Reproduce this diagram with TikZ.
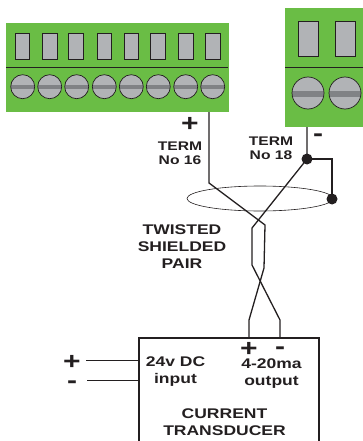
\documentclass[tikz,border=0pt]{standalone}
\usepackage{fontspec}
\usetikzlibrary{shapes.geometric}
\setmainfont[FakeStretch=1.25]{Liberation Sans}
\definecolor{termgreen}{HTML}{6ABD45}
\definecolor{termgrey}{HTML}{B1B3B6}
\definecolor{slotgrey}{HTML}{808285}
\definecolor{inkblack}{HTML}{231F20}
\tikzset{
  wire/.style={draw=inkblack, line width=1.3pt},
  window/.style={draw=inkblack, fill=termgrey, line width=0.8pt},
  lbl/.style={text=inkblack, align=center, inner sep=0pt, font=\fontsize{12.5}{14}\selectfont\bfseries},
  lblwide/.style={lbl, font=\fontsize{14}{16.8}\selectfont\bfseries},
  sign/.style={text=inkblack, inner sep=0pt, font=\fontsize{24}{24}\selectfont\bfseries},
  dot/.style={circle, fill=inkblack, inner sep=0pt, minimum size=11pt}
}
\begin{document}
\begin{tikzpicture}[x=1pt,y=-1pt]
        \useasboundingbox (0,0) rectangle (363,441);

        % Terminal block on the left
        \fill[termgreen] (6,23) rectangle (229,112);
        \draw[inkblack, line width=0.8pt] (6,67) -- (228,67);
        \foreach \x in {22.3,50,76,104.3,131.3,157.7,185.7,212.7} {
            \draw[window] (\x-7.3,33) rectangle (\x+7.3,59);
        }
        \foreach \x in {22.7,49.7,76.7,104.3,131.3,158.3,185.7,212.7} {
            \fill[termgrey] (\x,86.7) circle (12);
            \fill[slotgrey] (\x-12,85) rectangle (\x+12,89);
            \draw[inkblack, line width=0.7pt] (\x,86.7) circle (12);
        }

        % Terminal block on the right
        \fill[termgreen] (285,8) rectangle (363,127);
        \draw[inkblack, line width=0.8pt] (285,67) -- (363,67);
        \foreach \x in {308,345} {
            \draw[window] (\x-10,21) rectangle (\x+10,56);
            \fill[termgrey] (\x,93) circle (16);
            \fill[slotgrey] (\x-16,91) rectangle (\x+16,97);
            \draw[inkblack, line width=0.7pt] (\x,93) circle (16);
        }

        % Shield around the pair
        \node[ellipse, draw=inkblack, line width=0.6pt, minimum width=146pt, minimum height=25pt, inner sep=0pt] (shield) at (260,198.5) {};

        % Points of the two wires
        \coordinate (plustop) at (209,112);
        \coordinate (plusbend) at (209,183);
        \coordinate (plusa) at (265,225);
        \coordinate (plusb) at (264,268);
        \coordinate (plusc) at (249,320);
        \coordinate (plusend) at (249,338);
        \coordinate (minustop) at (307,127);
        \coordinate (minusa) at (252,228);
        \coordinate (minusb) at (252,265);
        \coordinate (minusc) at (280,320);
        \coordinate (minusend) at (280,338);
        \coordinate (shieldbend) at (332,159);
        \node[dot] (joint) at (307,159) {};
        \node[dot] (shielddot) at (332,199) {};

        % Twisted pair
        \draw[wire] (plustop) -- (plusbend) -- (plusa) -- (plusb) -- (plusc) -- (plusend);
        \draw[wire] (minustop) -- (joint.center) -- (minusa) -- (minusb) -- (minusc) -- (minusend);
        \draw[wire] (joint.center) -- (shieldbend) -- (shielddot.center);

        % Transducer box, cut off by the bottom edge
        \draw[inkblack, line width=1.2pt] (139,441) -- (139,338) -- (319,338) -- (319,441);

        % Supply leads
        \coordinate (leadplus) at (86,360);
        \coordinate (leadminus) at (87,380);
        \coordinate (boxplus) at (139,360);
        \coordinate (boxminus) at (139,380);
        \draw[inkblack, line width=1pt] (leadplus) -- (boxplus);
        \draw[inkblack, line width=1pt] (leadminus) -- (boxminus);

        % Labels
        \node[sign] (plusterm) at (190,124) {+};
        \node[sign] (minusterm) at (318,138) {-};
        \node[sign] (plusin) at (72,362) {+};
        \node[sign] (minusin) at (72,385) {-};
        \node[sign] (plusout) at (249,349) {+};
        \node[sign] (minusout) at (280,351) {-};
        \node[lbl] (termsixteen) at (180,153) {TERM\\No 16};
        \node[lbl] (termeighteen) at (271,148) {TERM\\No 18};
        \node[lblwide] (pairlabel) at (182,246.5) {TWISTED\\SHIELDED\\PAIR};
        \node[lblwide] (inputlabel) at (175.5,371.5) {24v DC\\input};
        \node[lblwide] (outputlabel) at (271.5,373.5) {4-20ma\\output};
        \node[lblwide] (boxlabel) at (224.5,422.5) {CURRENT\\TRANSDUCER};
    \end{tikzpicture}
\end{document}
